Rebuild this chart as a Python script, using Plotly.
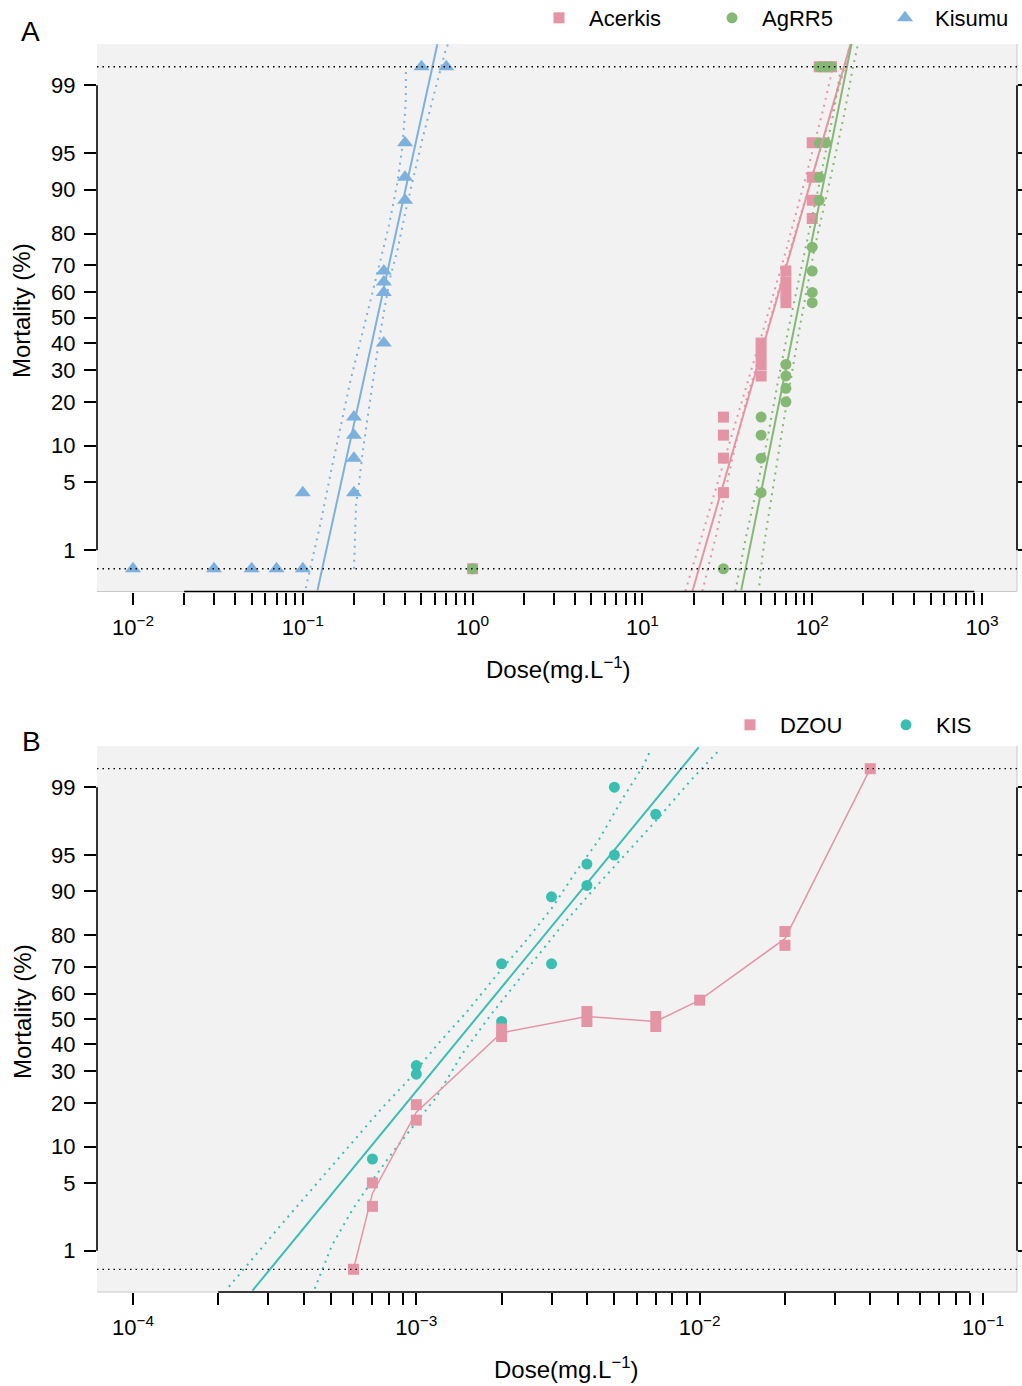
import math
from statistics import NormalDist
import pandas as pd
import plotly.graph_objects as go

# ---------------- data : panel A ----------------
acerkis_dose = [1, 30, 30, 30, 30, 50, 50, 50, 50, 70, 70, 70, 70, 100, 100, 100, 100, 110, 120, 130]
acerkis_mort = [0, 4, 8, 12, 16, 28, 32, 36, 40, 56, 60, 64, 68, 84, 88, 92, 96, 100, 100, 100]
agrr5_dose = [1, 30, 50, 50, 50, 50, 70, 70, 70, 70, 100, 100, 100, 100, 110, 110, 110, 120, 110, 120, 130]
agrr5_mort = [0, 0, 4, 8, 12, 16, 20, 24, 28, 32, 56, 60, 68, 76, 88, 92, 96, 96, 100, 100, 100]
kisumu_dose = [0.01, 0.03, 0.05, 0.07, 0.1, 0.1, 0.2, 0.2, 0.2, 0.2, 0.3, 0.3, 0.3, 0.3, 0.4, 0.4, 0.4, 0.5, 0.7]
kisumu_mort = [0, 0, 0, 0, 0, 4, 4, 8, 12, 16, 40, 60, 64, 68, 88, 92, 96, 100, 100]

acerkis_fit_dose = [19.7, 168.7]
acerkis_fit_mort = [0.31, 99.70]
agrr5_fit_dose = [38.2, 170.8]
agrr5_fit_mort = [0.32, 99.70]
kisumu_fit_dose = [0.1221, 0.620]
kisumu_fit_mort = [0.32, 99.69]

kisumu_ci_lo_dose = [0.1041, 0.1141, 0.1276, 0.1462, 0.1674, 0.1916, 0.2194, 0.2512, 0.2876, 0.3219, 0.3607, 0.3859, 0.3944, 0.4036, 0.4052]
kisumu_ci_lo_mort = [0.34, 0.81, 2.03, 6.1, 14.4, 26.9, 41.3, 56.9, 72.1, 82.3, 91.2, 95.7, 97.1, 98.4, 99.41]
kisumu_ci_hi_dose = [0.2003, 0.2022, 0.2058, 0.2144, 0.2245, 0.2402, 0.2570, 0.2773, 0.3007, 0.3293, 0.3607, 0.4036, 0.4516, 0.5059, 0.5661, 0.6335, 0.6937, 0.7157]
kisumu_ci_hi_mort = [0.60, 1.30, 3.08, 4.9, 8.6, 15.6, 25.8, 38.5, 52.6, 66.4, 75.0, 85.8, 92.3, 96.3, 98.25, 99.25, 99.63, 99.69]

acerkis_ci_lo_dose = [17.90, 21.94, 27.25, 38.74, 51.5, 70.3, 90.9, 116.1, 132.9]
acerkis_ci_lo_mort = [0.31, 1.30, 4.50, 20.5, 45.2, 75.2, 91.7, 98.15, 99.41]
acerkis_ci_hi_dose = [22.54, 27.62, 33.38, 40.9, 54.4, 74.2, 98.7, 131.1, 156.4, 167.3]
acerkis_ci_hi_mort = [0.31, 1.67, 7.3, 20.5, 45.2, 75.2, 91.7, 98.15, 99.41, 99.70]
agrr5_ci_lo_dose = [35.25, 40.36, 46.84, 54.36, 63.1, 72.3, 90.9, 111.4, 134.7, 148.1]
agrr5_ci_lo_mort = [0.31, 1.30, 4.23, 11.05, 26.7, 45.2, 75.2, 91.7, 98.15, 99.41]
agrr5_ci_hi_dose = [48.78, 50.8, 53.6, 57.4, 62.25, 66.6, 83.9, 102.8, 127.6, 156.4, 174.3, 186.5]
agrr5_ci_hi_mort = [0.37, 0.83, 1.67, 3.63, 7.72, 13.07, 45.2, 75.2, 91.7, 98.15, 99.41, 99.70]

# ---------------- data : panel B ----------------
kis_dose = [7e-4, 1e-3, 1e-3, 2e-3, 2e-3, 3e-3, 3e-3, 4e-3, 4e-3, 5e-3, 5e-3, 7e-3]
kis_mort = [8, 32, 29, 71, 49, 89, 71, 94, 91, 99, 95, 98]
dzou_dose = [6e-4, 7e-4, 7e-4, 1e-3, 1e-3, 2e-3, 2e-3, 4e-3, 4e-3, 7e-3, 7e-3, 1e-2, 2e-2, 2e-2, 4e-2]
dzou_mort = [0, 5, 3, 19.5, 15.5, 46, 43, 53, 49, 51, 47, 57.5, 81, 77, 100]

kis_fit_dose = [2.64e-4, 9.92e-3]
kis_fit_mort = [0.32, 99.68]
kis_ci_lo_dose = [2.18e-4, 2.60e-4, 3.38e-4, 4.45e-4, 5.77e-4, 7.60e-4, 9.21e-4, 1.196e-3, 1.511e-3, 1.935e-3, 2.41e-3, 3.00e-3, 3.64e-3, 4.41e-3, 5.35e-3, 6.31e-3, 6.66e-3]
kis_ci_lo_mort = [0.36, 0.76, 2.04, 4.92, 10.06, 18.75, 26.2, 40.3, 53.0, 67.4, 77.9, 86.6, 92.9, 96.4, 98.66, 99.44, 99.63]
kis_ci_hi_dose = [4.38e-4, 5.03e-4, 5.93e-4, 7.00e-4, 8.37e-4, 1.028e-3, 1.18e-3, 1.45e-3, 1.83e-3, 2.41e-3, 3.18e-3, 4.18e-3, 5.50e-3, 7.04e-3, 9.27e-3, 1.154e-2]
kis_ci_hi_mort = [0.34, 1.14, 2.74, 5.28, 9.44, 16.0, 21.8, 36.2, 51.6, 68.0, 81.5, 90.1, 95.2, 97.7, 99.16, 99.63]

y_tick_pcts = [1, 5, 10, 20, 30, 40, 50, 60, 70, 80, 90, 95, 99]
a_decades = [-2, -1, 0, 1, 2, 3]
b_decades = [-4, -3, -2, -1]

# ---------------- styling ----------------
PINK, GREEN, BLUE, TEAL = "#E495A5", "#86B875", "#7DB0DD", "#39BEB1"
FONT = "Liberation Sans, Arial, sans-serif"
W, H = 1022, 1386
ZERO_PCT, FULL_PCT = 0.6, 99.4          # where 0 % and 100 % are drawn
A_XRANGE = [-2.212, 3.206]
B_XRANGE = [-4.127, -0.880]
YR = [-2.74, 2.74]

ND = NormalDist()


def probit(pcts, clamp=False):
    out = []
    for p in pcts:
        if clamp:
            p = min(max(p, ZERO_PCT), FULL_PCT)
        out.append(ND.inv_cdf(p / 100.0))
    return out


def sup(e):
    return "10<sup>" + (("\u2212" + str(-e)) if e < 0 else str(e)) + "</sup>"


def log_ticks(decades):
    vals, txt = [], []
    for e in decades[:-1]:
        for k in range(1, 10):
            vals.append(k * 10.0 ** e)
            txt.append(sup(e) if k == 1 else "")
    vals.append(10.0 ** decades[-1])
    txt.append(sup(decades[-1]))
    return vals, txt


fig = go.Figure()


def pts(x, y, sym, size, color, name, xa, ya, leg, rank=None):
    fig.add_trace(go.Scatter(x=x, y=probit(y, clamp=True), mode="markers",
                             marker=dict(symbol=sym, size=size, color=color, line=dict(width=0)),
                             name=name, xaxis=xa, yaxis=ya, legend=leg, legendrank=rank,
                             hoverinfo="x+y"))


def line(x, y, color, xa, ya, width=2, dash="solid", clamp=False):
    fig.add_trace(go.Scatter(x=x, y=probit(y, clamp=clamp), mode="lines",
                             line=dict(color=color, width=width, dash=dash),
                             showlegend=False, xaxis=xa, yaxis=ya, hoverinfo="skip"))


DOT = "2px,5px"
# panel A
pts(acerkis_dose, acerkis_mort, "square", 11, PINK, "Acerkis", "x", "y", "legend")
pts(agrr5_dose, agrr5_mort, "circle", 11, GREEN, "AgRR5", "x", "y", "legend")
pts(kisumu_dose, kisumu_mort, "triangle-up", 14, BLUE, "Kisumu", "x", "y", "legend")
for fd, fm, lo_d, lo_m, hi_d, hi_m, c in [
    (acerkis_fit_dose, acerkis_fit_mort, acerkis_ci_lo_dose, acerkis_ci_lo_mort, acerkis_ci_hi_dose, acerkis_ci_hi_mort, PINK),
    (agrr5_fit_dose, agrr5_fit_mort, agrr5_ci_lo_dose, agrr5_ci_lo_mort, agrr5_ci_hi_dose, agrr5_ci_hi_mort, GREEN),
    (kisumu_fit_dose, kisumu_fit_mort, kisumu_ci_lo_dose, kisumu_ci_lo_mort, kisumu_ci_hi_dose, kisumu_ci_hi_mort, BLUE),
]:
    line(fd, fm, c, "x", "y", width=2)
    line(lo_d, lo_m, c, "x", "y", width=2, dash=DOT)
    line(hi_d, hi_m, c, "x", "y", width=2, dash=DOT)

# panel B
pts(kis_dose, kis_mort, "circle", 11, TEAL, "KIS", "x2", "y2", "legend2", rank=2)
line(kis_fit_dose, kis_fit_mort, TEAL, "x2", "y2", width=2)
line(kis_ci_lo_dose, kis_ci_lo_mort, TEAL, "x2", "y2", width=2, dash=DOT)
line(kis_ci_hi_dose, kis_ci_hi_mort, TEAL, "x2", "y2", width=2, dash=DOT)
dz = pd.DataFrame({"dose": dzou_dose, "mort": dzou_mort}).groupby("dose", as_index=False)["mort"].mean()
line(list(dz["dose"]), list(dz["mort"]), PINK, "x2", "y2", width=1.5, clamp=True)
pts(dzou_dose, dzou_mort, "square", 11, PINK, "DZOU", "x2", "y2", "legend2", rank=1)

# dummy traces for right-hand tick axes
fig.add_trace(go.Scatter(x=[], y=[], xaxis="x", yaxis="y3", showlegend=False))
fig.add_trace(go.Scatter(x=[], y=[], xaxis="x2", yaxis="y4", showlegend=False))

ytv = probit(y_tick_pcts)
ytt = [str(p) for p in y_tick_pcts]
a_tv, a_tt = log_ticks(a_decades)
b_tv, b_tt = log_ticks(b_decades)

A_DOM = [1 - 591.5 / H, 1 - 44 / H]
B_DOM = [1 - 1292 / H, 1 - 746 / H]

xcommon = dict(type="log", tickmode="array", ticks="outside", ticklen=12, tickwidth=1.5,
               tickcolor="black", showline=False, showgrid=False, zeroline=False,
               ticklabelstandoff=4, tickfont=dict(size=22, color="black", family=FONT),
               automargin=False, fixedrange=True)
ycommon = dict(range=YR, tickmode="array", tickvals=ytv, ticktext=ytt, ticks="outside", ticklen=12,
               tickwidth=1.5, tickcolor="black", showline=False, showgrid=False, zeroline=False,
               ticklabelstandoff=4, tickfont=dict(size=22, color="black", family=FONT),
               automargin=False, fixedrange=True)
yright = dict(range=YR, tickmode="array", tickvals=ytv, showticklabels=False, ticks="outside",
              ticklen=12, tickwidth=1.5, tickcolor="black", showline=False, showgrid=False,
              zeroline=False, side="right", automargin=False, fixedrange=True)

fig.update_layout(
    width=W, height=H,
    margin=dict(l=97, r=5, t=0, b=0, autoexpand=False),
    paper_bgcolor="white", plot_bgcolor="#F2F2F2",
    font=dict(family=FONT, size=22, color="black"),
    xaxis=dict(domain=[0, 1], anchor="y", range=A_XRANGE, tickvals=a_tv, ticktext=a_tt, **xcommon),
    yaxis=dict(domain=A_DOM, anchor="x", **ycommon),
    yaxis3=dict(overlaying="y", anchor="x", **yright),
    xaxis2=dict(domain=[0, 1], anchor="y2", range=B_XRANGE, tickvals=b_tv, ticktext=b_tt, **xcommon),
    yaxis2=dict(domain=B_DOM, anchor="x2", **ycommon),
    yaxis4=dict(overlaying="y2", anchor="x2", **yright),
    legend=dict(orientation="h", xref="container", yref="container", x=529 / W, y=1 - 18 / H,
                xanchor="left", yanchor="middle", entrywidth=108, entrywidthmode="pixels",
                itemwidth=50, font=dict(size=22, family=FONT), bgcolor="rgba(0,0,0,0)",
                borderwidth=0, traceorder="normal"),
    legend2=dict(orientation="h", xref="container", yref="container", x=720 / W, y=1 - 725 / H,
                 xanchor="left", yanchor="middle", entrywidth=91, entrywidthmode="pixels",
                 itemwidth=50, font=dict(size=22, family=FONT), bgcolor="rgba(0,0,0,0)",
                 borderwidth=0, traceorder="normal"),
    showlegend=True,
)


def frac(v, rng):
    return (math.log10(v) - rng[0]) / (rng[1] - rng[0])


shapes = []
for xa, ya, rng, lo, hi in [("x", "y", A_XRANGE, 0.02, 900), ("x2", "y2", B_XRANGE, 2e-4, 0.09)]:
    xd, yd = xa + " domain", ya + " domain"
    shapes.append(dict(type="line", xref=xd, yref=yd, x0=0, x1=1, y0=0, y1=0,
                       line=dict(color="#C8C8C8", width=1)))
    shapes.append(dict(type="line", xref=xd, yref=yd, x0=1, x1=1, y0=0, y1=1,
                       line=dict(color="#C8C8C8", width=1)))
    for p in (ZERO_PCT, FULL_PCT):
        zz = probit([p])[0]
        shapes.append(dict(type="line", xref=xd, yref=ya, x0=0, x1=1, y0=zz, y1=zz,
                           line=dict(color="black", width=1.3, dash="1.5px,4px")))
    shapes.append(dict(type="line", xref=xd, yref=yd, x0=frac(lo, rng), x1=frac(hi, rng), y0=0, y1=0,
                       line=dict(color="black", width=1.6)))
    for xv in (0, 1):
        shapes.append(dict(type="line", xref=xd, yref=ya, x0=xv, x1=xv, y0=ytv[0], y1=ytv[-1],
                           line=dict(color="black", width=1.6)))
fig.update_layout(shapes=shapes)


def px_ann(text, px, py, size, angle=0):
    return dict(text=text, xref="paper", yref="paper", x=(px - 97) / 920, y=1 - py / H,
                showarrow=False, xanchor="center", yanchor="middle", textangle=angle,
                font=dict(size=size, family=FONT, color="black"))


fig.update_layout(annotations=[
    px_ann("A", 30, 31, 28),
    px_ann("B", 31, 741, 28),
    px_ann("Mortality (%)", 22, 311, 24, -90),
    px_ann("Mortality (%)", 22, 1012, 24, -90),
    px_ann("Dose(mg.L<sup>\u22121</sup>)", 558, 668, 24),
    px_ann("Dose(mg.L<sup>\u22121</sup>)", 566, 1368, 24),
])

fig.write_html("out.html", config={"displayModeBar": False},
               post_script="document.body.style.margin='0px';document.body.style.overflow='hidden';")
